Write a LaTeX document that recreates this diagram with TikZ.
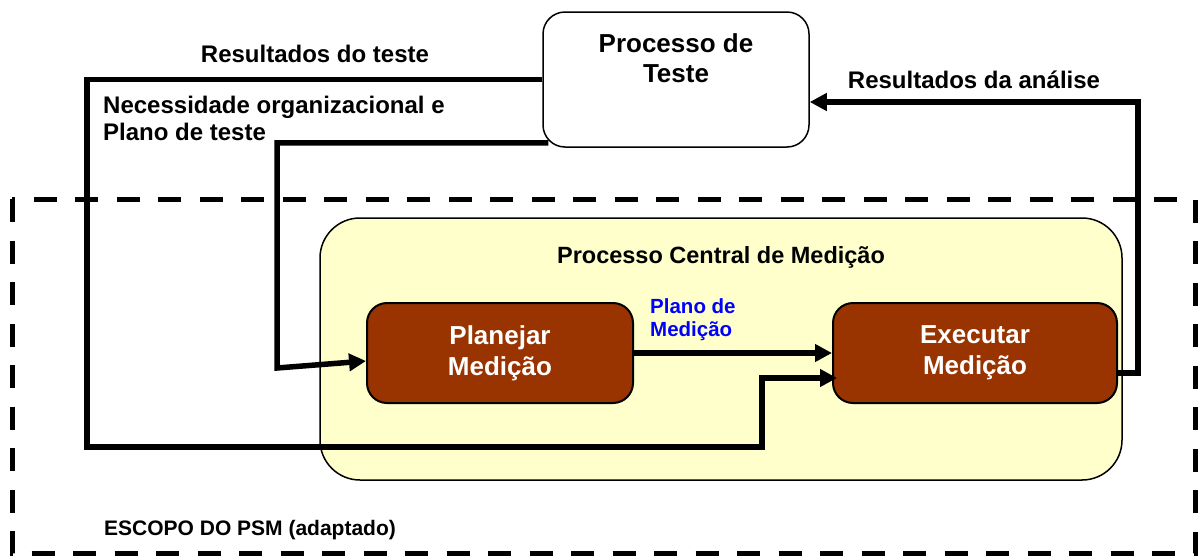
\documentclass[tikz,border=0pt]{standalone}
\usepackage{fontspec}
\setmainfont{Liberation Sans}
\usetikzlibrary{arrows.meta}
\definecolor{tijolo}{HTML}{993300}
\definecolor{creme}{HTML}{FFFFCC}
\begin{document}
\begin{tikzpicture}[x=1pt,y=-1pt,
  flow/.style={line width=5.5pt,-{Triangle[length=17pt,width=17pt]}},
  passo/.style={draw,line width=2pt,fill=tijolo,rounded corners=20pt,minimum height=100pt,
    text=white,align=center,font=\fontsize{26}{31}\selectfont\bfseries},
  rotulo/.style={inner sep=0pt,font=\fontsize{24}{27}\selectfont\bfseries}]
\useasboundingbox (0,0) rectangle (1198,555);
% escopo do PSM
\draw[line width=5pt,dash pattern=on 23pt off 18.5pt] (12,199) rectangle (1195,553);
\node[draw,fill=creme,line width=1.5pt,rounded corners=40pt,minimum width=802pt,minimum height=262pt] (central) at (721,349) {};
\node[draw,fill=white,line width=1.5pt,rounded corners=22pt,minimum width=266pt,minimum height=135pt] (teste) at (676,79.5) {};
\node[passo,minimum width=266pt] (plan) at (500,353) {Planejar\\Medição};
\node[passo,minimum width=284pt] (exec) at (975,353) {Executar\\Medição};
% fluxos
\draw[flow] (plan.east) -- (exec.west);
\draw[flow] (teste.west) -| (87,447) -| (762,378) -- ([shift={(5,25)}]exec.west);
\draw[flow] ([shift={(6,-5)}]teste.south west) -| (277,368) -- ([shift={(0,8)}]plan.west);
\draw[flow] ([shift={(0,20)}]exec.east) -| (1138,102) -- ([shift={(0,22.5)}]teste.east);
% textos
\node[anchor=north,align=center,inner sep=0pt,font=\fontsize{26}{30}\selectfont\bfseries] (testetit) at (676,33) {Processo de\\Teste};
\node[rotulo,anchor=base,font=\fontsize{23.5}{27}\selectfont\bfseries] (centraltit) at (721,263) {Processo Central de Medição};
\node[rotulo,anchor=base] (resteste) at (315,62) {Resultados do teste};
\node[rotulo,anchor=north west,align=left] (necess) at (103,96) {Necessidade organizacional e\\Plano de teste};
\node[rotulo,anchor=base] (resanalise) at (974,88) {Resultados da análise};
\node[anchor=north west,align=left,inner sep=0pt,text=blue,font=\fontsize{20.5}{23}\selectfont\bfseries] (planomed) at (650,298) {Plano de\\Medição};
\node[rotulo,anchor=base west,font=\fontsize{21}{25}\selectfont\bfseries] (escopo) at (104,535) {ESCOPO DO PSM (adaptado)};
\end{tikzpicture}
\end{document}
